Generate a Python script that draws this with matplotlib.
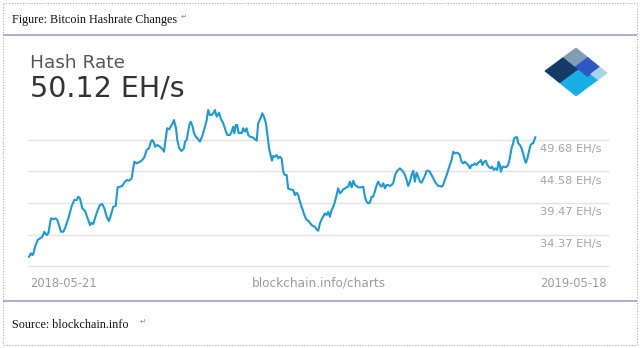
import matplotlib
matplotlib.use("Agg")
import matplotlib.pyplot as plt
import matplotlib.transforms as mtransforms
from matplotlib.patches import Polygon, Rectangle

# ---------------- data ----------------
title = "Figure: Bitcoin Hashrate Changes"
source = "Source: blockchain.info"
metric_name = "Hash Rate"
current_value = "50.12 EH/s"
start_label = "2018-05-21"
end_label = "2019-05-18"
watermark = "blockchain.info/charts"

# days since 2018-05-21
days = [0, 1.4, 2.4, 3.1, 4.3, 6.2, 7.9, 9.5, 10.9, 12.6, 13.8, 15.7, 17.4, 19.1, 20.2, 21.4, 22.8, 24.5, 25.7, 28.1,
        30.5, 32.3, 34.1, 35.2, 36.4, 38.1, 40.0, 41.9, 43.6, 44.8, 45.9, 47.1, 49.1, 50.7, 52.3, 53.8, 55.5, 57.1, 58.5, 60.2,
        61.9, 63.3, 65.0, 66.6, 68.5, 69.8, 71.4, 73.3, 75.2, 76.9, 79.3, 80.9, 82.3, 84.0, 85.7, 87.1, 88.0, 89.5, 90.0, 91.6,
        93.5, 95.5, 96.4, 97.8, 98.7, 100.2, 101.2, 102.6, 103.5, 105.0, 105.9, 107.3, 109.0, 110.7, 111.4, 112.6, 114.5, 115.5, 116.9, 117.8,
        119.2, 120.9, 122.1, 124.0, 125.7, 126.9, 128.0, 129.2, 130.4, 131.6, 132.8, 134.0, 135.7, 136.9, 138.7, 140.7, 141.6, 143.5, 144.7, 145.9,
        146.6, 147.8, 148.7, 149.7, 150.7, 151.9, 153.0, 154.2, 155.4, 156.6, 157.8, 159.7, 161.4, 162.6, 163.7, 165.4, 166.6, 167.8, 169.2, 170.1,
        171.6, 172.6, 173.5, 174.4, 175.6, 176.9, 178.0, 179.2, 180.4, 181.6, 182.8, 184.0, 185.1, 186.4, 188.7, 189.9, 191.1, 192.3, 193.5, 194.7,
        195.9, 197.1, 198.3, 199.4, 200.6, 201.8, 203.0, 204.2, 205.4, 206.6, 207.8, 209.0, 210.1, 211.3, 212.6, 213.7, 214.9, 216.1, 217.3, 218.5,
        219.7, 220.8, 222.1, 223.3, 224.4, 225.7, 226.8, 228.0, 229.2, 230.4, 231.6, 232.8, 234.0, 235.1, 237.0, 238.7, 239.9, 241.1, 242.3, 243.5,
        244.7, 245.8, 247.0, 248.3, 249.4, 250.6, 251.8, 253.0, 254.2, 255.4, 256.5, 257.8, 258.9, 260.1, 261.3, 262.5, 263.7, 264.9, 266.1, 267.2,
        268.5, 269.7, 270.8, 272.0, 273.3, 274.4, 275.6, 276.8, 278.0, 279.2, 280.4, 281.5, 282.7, 284.0, 285.1, 286.3, 287.5, 288.7, 289.9, 291.1,
        292.3, 293.5, 294.7, 295.8, 297.0, 298.3, 299.4, 300.6, 301.8, 303.0, 304.2, 305.4, 306.6, 307.7, 308.9, 310.1, 311.3, 312.5, 313.7, 314.9,
        316.1, 317.2, 318.4, 319.6, 320.8, 322.0, 322.7, 323.9, 325.1, 326.3, 327.3, 328.4, 329.6, 330.8, 332.0, 333.2, 334.4, 335.4, 336.3, 337.0,
        338.2, 339.4, 340.6, 342.2, 343.4, 344.6, 345.8, 346.5, 347.7, 348.6, 349.4, 350.6, 351.8, 352.9, 354.1, 354.8, 355.8, 357.0, 358.2, 359.4,
        360.1, 360.9, 361.6]

# hash rate, EH/s
hashrate = [30.77, 31.32, 31.04, 31.21, 32.39, 33.47, 33.75, 34.01, 34.82, 34.28, 34.56, 36.99, 36.83, 36.99, 36.72, 35.90, 34.82, 34.82, 35.37, 36.99,
            38.98, 39.96, 39.96, 40.49, 40.23, 38.61, 38.22, 36.99, 35.90, 36.28, 36.07, 36.99, 38.34, 39.15, 39.31, 38.61, 37.25, 36.55, 37.53, 38.87,
            38.98, 42.01, 42.11, 42.23, 42.92, 43.20, 43.08, 43.47, 46.16, 45.90, 46.16, 46.44, 46.88, 48.06, 48.33, 49.40, 49.68, 49.15, 48.59, 48.87,
            48.59, 48.17, 47.78, 50.21, 51.58, 51.41, 51.84, 52.39, 52.92, 51.58, 49.68, 48.33, 47.90, 48.33, 49.40, 49.68, 52.11, 52.65, 51.84, 50.77,
            50.21, 49.79, 49.40, 50.49, 51.84, 52.92, 54.54, 53.73, 53.73, 54.01, 54.54, 53.46, 54.10, 53.20, 52.39, 51.03, 50.49, 50.49, 51.03, 51.84,
            50.77, 52.11, 52.11, 50.77, 50.86, 50.77, 51.58, 51.03, 51.58, 50.49, 50.21, 50.12, 49.79, 49.57, 52.39, 53.20, 54.01, 53.46, 52.39, 50.77,
            48.17, 47.25, 46.33, 47.09, 46.97, 47.25, 46.71, 46.97, 46.71, 44.54, 44.01, 44.01, 41.85, 41.69, 41.58, 40.77, 41.14, 40.77, 39.68, 38.87,
            38.06, 37.25, 36.72, 36.61, 36.28, 35.90, 35.74, 35.63, 35.21, 34.98, 36.18, 36.83, 37.25, 37.80, 37.53, 38.06, 37.25, 38.34, 38.87, 39.68,
            40.77, 41.85, 41.04, 41.30, 41.69, 41.85, 42.01, 42.11, 42.92, 42.01, 43.08, 42.39, 42.23, 42.01, 42.01, 42.11, 40.49, 39.68, 39.42, 39.52,
            40.49, 40.49, 41.30, 42.39, 42.92, 42.39, 42.11, 42.66, 41.85, 42.39, 42.39, 42.23, 42.39, 42.66, 43.85, 44.54, 44.82, 45.09, 44.82, 44.54,
            44.01, 43.20, 42.23, 42.92, 44.01, 44.70, 42.92, 44.38, 43.73, 42.92, 42.76, 43.31, 43.85, 44.70, 44.70, 44.54, 44.01, 43.47, 42.92, 42.55,
            42.23, 42.23, 42.11, 42.39, 43.20, 44.01, 44.82, 45.63, 46.44, 47.78, 47.52, 47.62, 47.52, 47.25, 46.16, 45.90, 46.16, 45.90, 45.63, 45.09,
            45.63, 45.63, 45.90, 45.63, 46.00, 46.16, 46.44, 45.63, 46.16, 46.33, 45.63, 45.35, 45.09, 45.35, 44.82, 45.09, 44.82, 46.16, 45.63, 44.54,
            45.35, 45.35, 45.26, 45.63, 46.71, 48.33, 49.15, 49.96, 50.12, 50.12, 49.15, 48.87, 48.33, 47.52, 46.44, 46.00, 46.55, 47.78, 48.87, 49.15,
            49.15, 49.68, 50.12]

tick_values = [49.68, 44.58, 39.47, 34.37]
baseline_value = 29.27
tick_labels = [f"{v:.2f} EH/s" for v in tick_values]

# ---------------- figure ----------------
W, H = 640, 348
fig = plt.figure(figsize=(W / 100, H / 100), dpi=100)
fig.patch.set_facecolor("white")

SANS = ["DejaVu Sans"]
SERIF = ["Liberation Serif", "DejaVu Serif"]

# overlay in pixel coordinates for decorations
ov = fig.add_axes([0, 0, 1, 1], zorder=0)
ov.set_xlim(0, W)
ov.set_ylim(H, 0)
ov.axis("off")

# dotted page border
ov.add_patch(Rectangle((3, 3), 634, 342, fill=False, edgecolor="#b0b0b0",
                       linestyle=(0, (1, 1.5)), linewidth=0.8))
# table rules
for yy in (35, 301):
    ov.plot([3, 637], [yy, yy], color="#9ea2c0", linewidth=1.2, solid_capstyle="butt")

# captions
ov.text(12, 23, title, family=SERIF, fontsize=8.7, color="#111111", va="baseline", ha="left")
ov.text(181, 19, "\u21b5", family=["DejaVu Sans"], fontsize=5.5, color="#6a9be0", va="baseline", ha="left")
ov.text(12, 328, source, family=SERIF, fontsize=8.7, color="#111111", va="baseline", ha="left")
ov.text(140, 324, "\u21b5", family=["DejaVu Sans"], fontsize=5.5, color="#6a9be0", va="baseline", ha="left")

# chart header
ov.text(30, 68.3, metric_name, family=SANS, fontsize=13.3, color="#555555", va="baseline", ha="left")
ov.text(30, 96.7, current_value, family=SANS, fontsize=20.5, color="#333333", va="baseline", ha="left")

# logo (diamond made of coloured blocks), in pixel coords
Lp = (545.0, 71.0)
av = (31.0, -23.0)
bv = (31.0, 25.0)


def quad(u0, u1, v0, v1):
    pts = []
    for (u, v) in [(u0, v0), (u1, v0), (u1, v1), (u0, v1)]:
        pts.append((Lp[0] + u * av[0] + v * bv[0], Lp[1] + u * av[1] + v * bv[1]))
    return pts


logo_blocks = [
    ((0.0, 0.71, 0.47, 1.0), "#17aee6"),
    ((0.0, 0.6, 0.0, 0.47), "#143a66"),
    ((0.6, 1.0, 0.0, 0.38), "#7f9db5"),
    ((0.6, 1.0, 0.38, 0.77), "#2f55c6"),
    ((0.71, 1.0, 0.77, 1.0), "#a9d4ea"),
]
for (u0, u1, v0, v1), c in logo_blocks:
    ov.add_patch(Polygon(quad(u0, u1, v0, v1), closed=True, facecolor=c, edgecolor=c,
                         linewidth=0.6, joinstyle="round"))

# ---------------- main chart ----------------
px_left, px_right = 28, 608
px_top, px_bottom = 105, 266
ax = fig.add_axes([px_left / W, 1 - px_bottom / H, (px_right - px_left) / W, (px_bottom - px_top) / H],
                  zorder=2)
ax.patch.set_alpha(0)

# x scale: first sample at pixel 29, last sample at pixel 535.3
x0_px, x1_px = 29.0, 535.3
d0, d1 = days[0], days[-1]
scale = (x1_px - x0_px) / (d1 - d0)
ax.set_xlim(d0 - (x0_px - px_left) / scale, d1 + (px_right - x1_px) / scale)

# y scale: 49.68 gridline at pixel 140, baseline at pixel 266
y_top_px = 140.0
ppv = (px_bottom - y_top_px) / (tick_values[0] - baseline_value)
ax.set_ylim(baseline_value, tick_values[0] + (y_top_px - px_top) / ppv)

for v in tick_values + [baseline_value]:
    ax.axhline(v, color="#e2e2e2", linewidth=1.0, zorder=1, clip_on=False)

ax.plot(days, hashrate, color="#1c9ad6", linewidth=1.5, solid_joinstyle="round", zorder=3)

ax.set_xticks([])
ax.set_yticks([])
for s in ax.spines.values():
    s.set_visible(False)

# right-side value labels (below each gridline)
label_x = (540.5 - px_left) / (px_right - px_left)
blend = mtransforms.blended_transform_factory(ax.transAxes, ax.transData)
tr = mtransforms.offset_copy(blend, fig=fig, x=0, y=-12.3, units="dots")
for v, lab in zip(tick_values, tick_labels):
    ax.text(label_x, v, lab, transform=tr, family=SANS, fontsize=8.2, color="#a3a3a3",
            ha="left", va="baseline")

# bottom labels
ov.text(30, 286.7, start_label, family=SANS, fontsize=8.3, color="#9c9c9c", ha="left", va="baseline")
ov.text(607, 286.7, end_label, family=SANS, fontsize=8.3, color="#9c9c9c", ha="right", va="baseline")
ov.text(318.5, 286.7, watermark, family=SANS, fontsize=8.7, color="#9c9c9c", ha="center", va="baseline")

fig.savefig("out.png", dpi=100, facecolor="white")
